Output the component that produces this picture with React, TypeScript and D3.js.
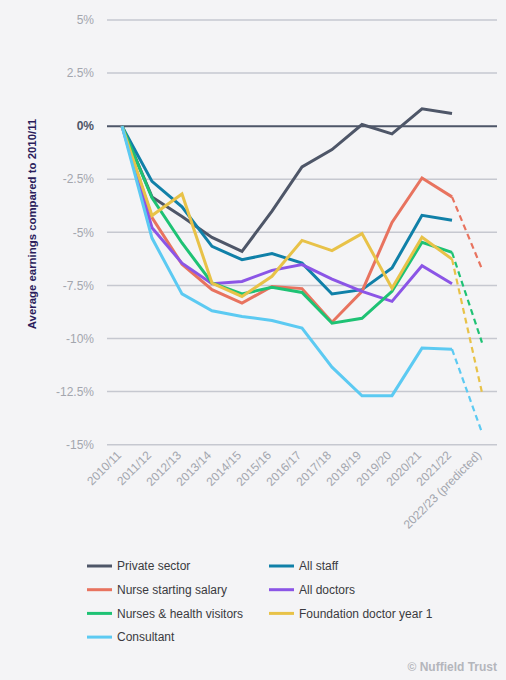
import React, { useEffect, useRef } from 'react';
import * as d3 from 'd3';

const years = [
  '2010/11', '2011/12', '2012/13', '2013/14', '2014/15', '2015/16', '2016/17',
  '2017/18', '2018/19', '2019/20', '2020/21', '2021/22', '2022/23 (predicted)',
];
const yTicks = [5, 2.5, 0, -2.5, -5, -7.5, -10, -12.5, -15];

const privateSector = [0, -3.33, -4.25, -5.24, -5.9, -4.0, -1.92, -1.1, 0.08, -0.36, 0.82, 0.6, null];
const allStaff = [0, -2.6, -3.8, -5.66, -6.29, -6.0, -6.45, -7.9, -7.7, -6.68, -4.2, -4.43, null];
const nurseStarting = [0, -4.3, -6.5, -7.7, -8.33, -7.55, -7.65, -9.23, -7.78, -4.53, -2.44, -3.33, -6.73];
const allDoctors = [0, -4.78, -6.45, -7.42, -7.31, -6.79, -6.52, -7.2, -7.78, -8.25, -6.57, -7.42, null];
const nursesHV = [0, -3.37, -5.5, -7.38, -7.9, -7.59, -7.83, -9.28, -9.05, -7.78, -5.47, -5.94, -10.19];
const foundationY1 = [0, -4.21, -3.19, -7.39, -8.02, -7.07, -5.38, -5.86, -5.06, -7.63, -5.23, -6.26, -12.55];
const consultant = [0, -5.27, -7.9, -8.69, -8.96, -9.15, -9.51, -11.35, -12.7, -12.69, -10.45, -10.5, -14.43];

const series = [
  { name: 'Private sector', color: '#4e5668', values: privateSector },
  { name: 'All staff', color: '#1080a8', values: allStaff },
  { name: 'Nurse starting salary', color: '#e8735f', values: nurseStarting },
  { name: 'All doctors', color: '#8b55e6', values: allDoctors },
  { name: 'Nurses & health visitors', color: '#1ec274', values: nursesHV },
  { name: 'Foundation doctor year 1', color: '#e8c248', values: foundationY1 },
  { name: 'Consultant', color: '#5ccaf2', values: consultant },
];

const W = 506;
const H = 680;
const font = '"Liberation Sans", Arial, sans-serif';

export default function App() {
  const ref = useRef<SVGSVGElement>(null);

  useEffect(() => {
    if (!ref.current) return;
    const svg = d3.select(ref.current);
    svg.selectAll('*').remove();

    const x = d3.scalePoint<string>().domain(years).range([107, 497]).padding(0.5);
    const y = d3.scaleLinear().domain([-15, 5]).range([444.7, 20]);

    svg.append('rect').attr('width', W).attr('height', H).attr('fill', '#f4f4f6');

    // grid
    const grid = svg.append('g');
    grid.selectAll('line')
      .data(yTicks)
      .join('line')
      .attr('x1', 107)
      .attr('x2', 497)
      .attr('y1', d => y(d))
      .attr('y2', d => y(d))
      .attr('stroke', d => (d === 0 ? '#4e5668' : '#c6c8d0'))
      .attr('stroke-width', d => (d === 0 ? 2 : 1.5));

    grid.selectAll('text')
      .data(yTicks)
      .join('text')
      .attr('x', 94)
      .attr('y', d => y(d))
      .attr('dy', '0.35em')
      .attr('text-anchor', 'end')
      .attr('font-family', font)
      .attr('font-size', 12)
      .attr('font-weight', d => (d === 0 ? 'bold' : 'normal'))
      .attr('fill', d => (d === 0 ? '#4e5668' : '#a3a6ae'))
      .text(d => `${d}%`);

    // x labels
    svg.append('g')
      .selectAll('text')
      .data(years)
      .join('text')
      .attr('transform', d => `translate(${x(d)! - 3},${453}) rotate(-45)`)
      .attr('text-anchor', 'end')
      .attr('dy', '0.35em')
      .attr('font-family', font)
      .attr('font-size', 12)
      .attr('fill', '#a3a6ae')
      .text(d => d);

    // y title
    svg.append('text')
      .attr('transform', `translate(36,224) rotate(-90)`)
      .attr('text-anchor', 'middle')
      .attr('font-family', font)
      .attr('font-size', 11.4)
      .attr('font-weight', 'bold')
      .attr('fill', '#2b1d5c')
      .text('Average earnings compared to 2010/11');

    const line = d3.line<{ yr: string; v: number }>()
      .x(d => x(d.yr)!)
      .y(d => y(d.v));

    const last = years.length - 1;
    series.forEach(s => {
      const pts = s.values
        .map((v, i) => ({ yr: years[i], v: v as number, i }))
        .filter(p => p.v !== null);
      const solid = pts.filter(p => p.i < last);
      const dashed = pts.filter(p => p.i >= last - 1);
      if (s.values[last] !== null) {
        svg.append('path')
          .attr('d', line(dashed))
          .attr('fill', 'none')
          .attr('stroke', s.color)
          .attr('stroke-width', 2.2)
          .attr('stroke-dasharray', '6,4');
      }
      svg.append('path')
        .attr('d', line(solid))
        .attr('fill', 'none')
        .attr('stroke', s.color)
        .attr('stroke-width', 3)
        .attr('stroke-linejoin', 'miter');
    });

    // legend
    const legend = svg.append('g');
    series.forEach((s, i) => {
      const col = i % 2;
      const row = Math.floor(i / 2);
      const lx = col === 0 ? 87 : 269;
      const ly = 566 + row * 23.7;
      legend.append('line')
        .attr('x1', lx).attr('x2', lx + 25)
        .attr('y1', ly).attr('y2', ly)
        .attr('stroke', s.color)
        .attr('stroke-width', 3);
      legend.append('text')
        .attr('x', lx + 30)
        .attr('y', ly)
        .attr('dy', '0.35em')
        .attr('font-family', font)
        .attr('font-size', 12)
        .attr('fill', '#3a3a40')
        .text(s.name);
    });

    svg.append('text')
      .attr('x', 497)
      .attr('y', 667)
      .attr('dy', '0.35em')
      .attr('text-anchor', 'end')
      .attr('font-family', font)
      .attr('font-size', 12)
      .attr('font-weight', 'bold')
      .attr('fill', '#b4b6bc')
      .text('© Nuffield Trust');
  }, []);

  return (
    <svg
      ref={ref}
      width={W}
      height={H}
      style={{ position: 'fixed', top: 0, left: 0, display: 'block' }}
    />
  );
}
